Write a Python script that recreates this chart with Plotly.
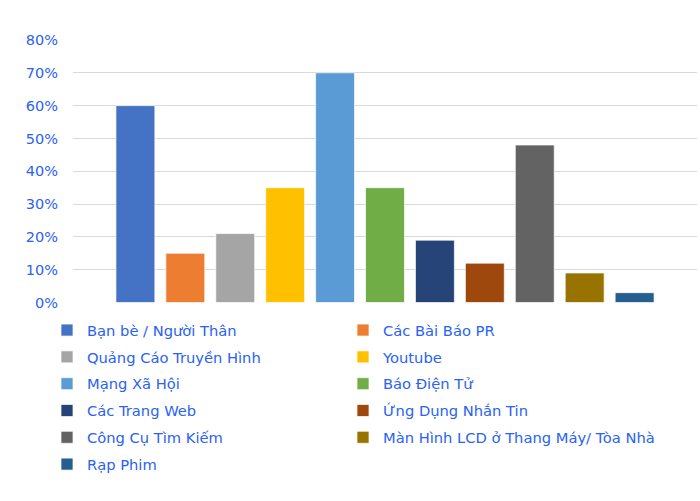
import plotly.graph_objects as go

names = ["Bạn bè / Người Thân", "Các Bài Báo PR", "Quảng Cáo Truyền Hình", "Youtube",
         "Mạng Xã Hội", "Báo Điện Tử", "Các Trang Web", "Ứng Dụng Nhắn Tin",
         "Công Cụ Tìm Kiếm", "Màn Hình LCD ở Thang Máy/ Tòa Nhà", "Rạp Phim"]
values = [0.60, 0.15, 0.21, 0.35, 0.70, 0.35, 0.19, 0.12, 0.48, 0.09, 0.03]
colors = ["#4472C4", "#ED7D31", "#A5A5A5", "#FFC000", "#5B9BD5", "#70AD47",
          "#264478", "#9E480E", "#636363", "#997300", "#255E91"]
tick_vals = [0, 0.1, 0.2, 0.3, 0.4, 0.5, 0.6, 0.7, 0.8]

TXT = "#2962f5"
FONT = "DejaVu Sans"

W, H = 700, 501
ML, MR, MT, MB = 73, 3, 40, 10
PW = W - ML - MR
PH = H - MT - MB
plot_bottom_px = 302.5
dom0 = (H - MB - plot_bottom_px) / PH

def px_x(px):
    return (px - ML) / PW

def px_y(py):
    return (H - MB - py) / PH

fig = go.Figure()
for i, (n, v, c) in enumerate(zip(names, values, colors)):
    fig.add_trace(go.Bar(x=[""], y=[v], name=n, legendgroup=f"g{i}",
                         legend="legend" if i % 2 == 0 else "legend2",
                         marker=dict(color=c, line=dict(color="rgba(255,255,255,0.7)", width=1))))

leg_common = dict(orientation="v", yanchor="top", xanchor="left", traceorder="grouped",
                  font=dict(family=FONT, size=14.7, color=TXT), itemwidth=30,
                  tracegroupgap=4.7, bgcolor="rgba(0,0,0,0)")

fig.update_layout(
    width=W, height=H,
    paper_bgcolor="white", plot_bgcolor="white",
    margin=dict(l=ML, r=MR, t=MT, b=MB),
    barmode="group", bargap=0.12, bargroupgap=0.22,
    font=dict(family=FONT, size=15, color=TXT),
    showlegend=True,
    legend=dict(x=px_x(47), y=px_y(314), **leg_common),
    legend2=dict(x=px_x(343), y=px_y(314), **leg_common),
    xaxis=dict(showticklabels=False, showgrid=False, zeroline=False, showline=False),
    yaxis=dict(range=[0, 0.8], tickvals=tick_vals, tickformat=".0%", domain=[dom0, 1],
               showgrid=True, gridcolor="#d9d9d9", gridwidth=1, zeroline=False,
               ticks="", ticklabelstandoff=14,
               tickfont=dict(family=FONT, size=14.5, color=TXT)),
)

fig.write_html("out.html")
